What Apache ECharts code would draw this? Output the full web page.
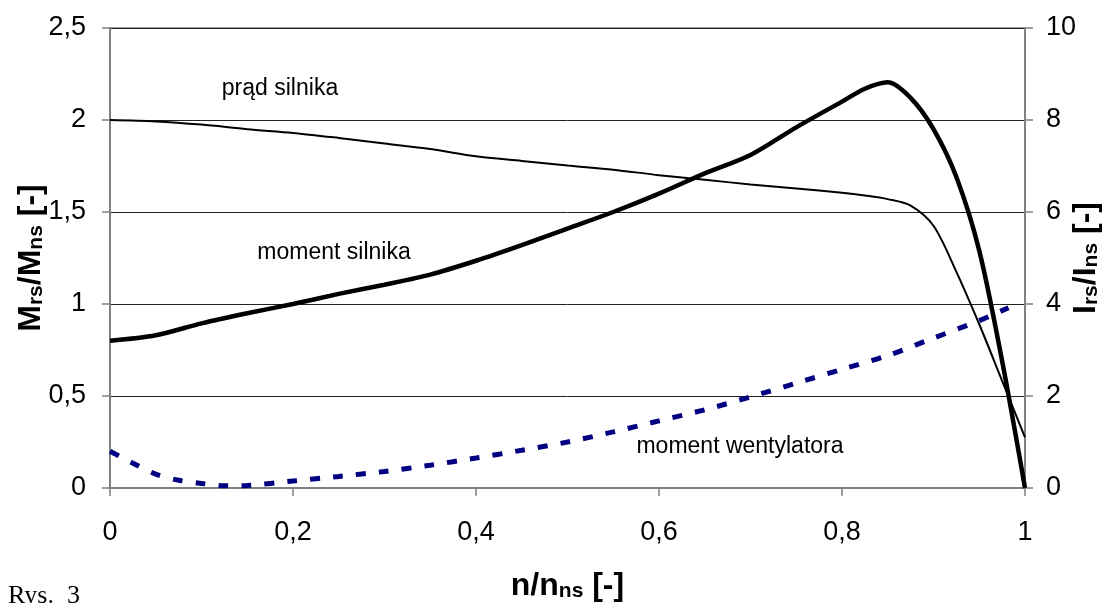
<!DOCTYPE html>
<html>
<head>
<meta charset="utf-8">
<script src="https://cdn.jsdelivr.net/npm/echarts@6/dist/echarts.min.js"></script>
<style>
html,body{margin:0;padding:0;background:#fff;}
#c{width:1102px;height:603px;}
</style>
</head>
<body>
<div id="c"></div>
<script>
// n/n_ns
const speedMotor = [0,0.05,0.1,0.15,0.2,0.25,0.3,0.35,0.4,0.45,0.5,0.55,0.6,0.65,0.7,0.75,0.8,0.825,0.85,0.875,0.9,0.925,0.95,0.975,1.0];
// moment silnika M_rs/M_ns (left axis)
const torqueMotor = [0.80,0.83,0.895,0.95,1.0,1.055,1.105,1.16,1.235,1.32,1.41,1.50,1.60,1.71,1.81,1.96,2.10,2.17,2.205,2.12,1.95,1.69,1.29,0.69,0.0];
// prąd silnika I_rs/I_ns (right axis)
const currentMotor = [8.0,7.97,7.90,7.80,7.72,7.61,7.49,7.37,7.21,7.11,7.01,6.92,6.80,6.70,6.60,6.51,6.42,6.36,6.28,6.14,5.70,4.70,3.56,2.33,1.1];
// moment wentylatora M_rs/M_ns (left axis)
const speedFan = [0,0.025,0.05,0.075,0.1,0.125,0.15,0.2,0.25,0.3,0.35,0.4,0.45,0.5,0.55,0.6,0.65,0.7,0.75,0.8,0.85,0.9,0.95,0.982];
const torqueFan = [0.2,0.135,0.075,0.042,0.025,0.012,0.014,0.038,0.063,0.09,0.124,0.163,0.205,0.25,0.305,0.365,0.425,0.495,0.57,0.645,0.72,0.815,0.91,0.98];

const labelFont = 'Liberation Sans, Arial, Helvetica, sans-serif';
const fmt = v => String(Number(v.toFixed(2))).replace('.', ',');

const chart = echarts.init(document.getElementById('c'), null, {renderer:'canvas'});
const titleRich = {
  b:{fontSize:32,fontWeight:'bold',fontFamily:labelFont,color:'#000',lineHeight:36,verticalAlign:'bottom'},
  s:{fontSize:21,fontWeight:'bold',fontFamily:labelFont,color:'#000',lineHeight:28,verticalAlign:'bottom'}
};
chart.setOption({
  animation:false,
  backgroundColor:'#fff',
  grid:{left:110,right:77,top:28,bottom:115,containLabel:false,outerBoundsMode:'none',show:true,borderColor:'#808080',borderWidth:1.5,backgroundColor:'transparent'},
  xAxis:{
    type:'value',min:0,max:1,interval:0.2,
    name:'{b|n/n}{s|ns}{b| [-]}',nameLocation:'middle',nameGap:78,nameMoveOverlap:false,
    nameTextStyle:{rich:titleRich},
    axisLine:{show:true,onZero:false,lineStyle:{color:'#808080',width:2}},
    axisTick:{show:true,length:8,lineStyle:{color:'#808080',width:1.5}},
    axisLabel:{fontSize:27,color:'#000',fontFamily:labelFont,margin:31,formatter:fmt},
    splitLine:{show:false}
  },
  yAxis:[{
    type:'value',min:0,max:2.5,interval:0.5,position:'left',
    name:'{b|M}{s|rs}{b|/M}{s|ns}{b| [-]}',nameLocation:'middle',nameRotate:90,nameGap:63,nameMoveOverlap:false,
    nameTextStyle:{rich:titleRich},
    axisLine:{show:true,lineStyle:{color:'#808080',width:2}},
    axisTick:{show:true,length:8,lineStyle:{color:'#808080',width:1.5}},
    axisLabel:{fontSize:27,color:'#000',fontFamily:labelFont,margin:24,formatter:fmt},
    splitLine:{show:true,lineStyle:{color:'#222',width:1}}
  },{
    type:'value',min:0,max:10,interval:2,position:'right',
    name:'{b|I}{s|rs}{b|/I}{s|ns}{b| [-]}',nameLocation:'middle',nameRotate:90,nameGap:41,nameMoveOverlap:false,
    nameTextStyle:{rich:titleRich},
    axisLine:{show:true,lineStyle:{color:'#808080',width:2}},
    axisTick:{show:true,length:8,lineStyle:{color:'#808080',width:1.5}},
    axisLabel:{fontSize:27,color:'#000',fontFamily:labelFont,margin:21,formatter:fmt},
    splitLine:{show:false}
  }],
  series:[{
    name:'prąd silnika',type:'line',yAxisIndex:1,smooth:0.3,symbol:'none',
    data:speedMotor.map((x,i)=>[x,currentMotor[i]]),
    lineStyle:{color:'#000',width:2}
  },{
    name:'moment silnika',type:'line',yAxisIndex:0,smooth:0.3,symbol:'none',
    data:speedMotor.map((x,i)=>[x,torqueMotor[i]]),
    lineStyle:{color:'#000',width:4.5}
  },{
    name:'moment wentylatora',type:'line',yAxisIndex:0,smooth:0.3,symbol:'none',
    data:speedFan.map((x,i)=>[x,torqueFan[i]]),
    lineStyle:{color:'#000080',width:5,type:[10,13]}
  }],
  graphic:[
    {type:'text',x:280,y:89,style:{text:'prąd silnika',fontSize:23,fontFamily:labelFont,fill:'#000',align:'center',verticalAlign:'middle'}},
    {type:'text',x:334,y:253,style:{text:'moment silnika',fontSize:23,fontFamily:labelFont,fill:'#000',align:'center',verticalAlign:'middle'}},
    {type:'text',x:740,y:447,style:{text:'moment wentylatora',fontSize:23,fontFamily:labelFont,fill:'#000',align:'center',verticalAlign:'middle'}},
    {type:'text',x:8,y:583,style:{text:'Rys.  3',fontSize:26,fontFamily:'Liberation Serif, Times New Roman, serif',fill:'#000',align:'left',verticalAlign:'top'}}
  ]
});
</script>
</body>
</html>
